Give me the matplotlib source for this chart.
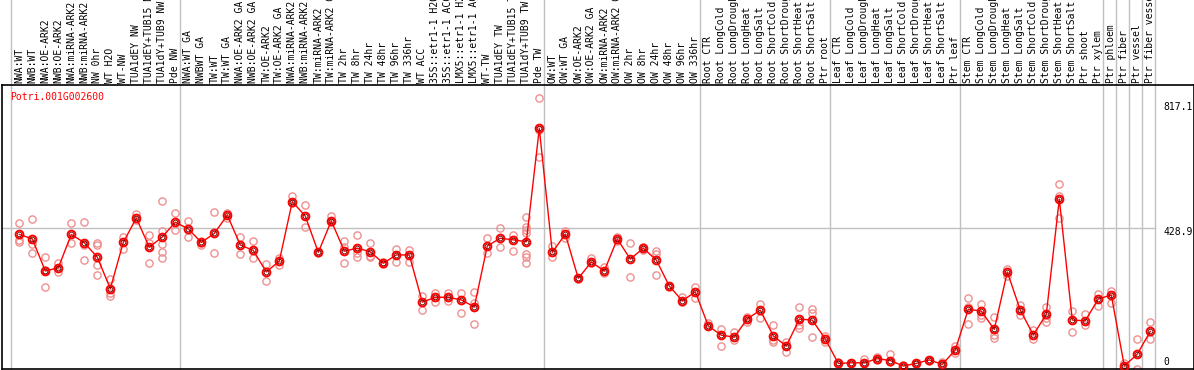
import matplotlib
matplotlib.use("Agg")
import matplotlib.pyplot as plt
import matplotlib.transforms as mtransforms

gene_name = "Potri.001G002600"

categories = [
    "NWA:WT", "NWB:WT", "NWA:OE-ARK2", "NWB:OE-ARK2", "NWA:miRNA-ARK2", "NWB:miRNA-ARK2",
    "NW 0hr", "WT H2O", "WT-NW", "TUA1dEY NW", "TUA1dEY+TUB15 NW", "TUA1dY+TUB9 NW", "Pde NW",
    "NWA:WT GA", "NWBWT GA", "TW:WT", "TW:WT GA", "NWA:OE-ARK2 GA", "NWB:OE-ARK2 GA",
    "TW:OE-ARK2", "TW:OE-ARK2 GA", "NWA:miRNA-ARK2 GA", "NWB:miRNA-ARK2 GA", "TW:miRNA-ARK2",
    "TW:miRNA-ARK2 GA", "TW 2hr", "TW 8hr", "TW 24hr", "TW 48hr", "TW 96hr", "TW 336hr",
    "WT ACC", "35S::etr1-1 H2O", "35S::etr1-1 ACC", "LMX5::etr1-1 H2O", "LMX5::etr1-1 ACC",
    "WT-TW", "TUA1dEY TW", "TUA1dEY+TUB15 TW", "TUA1dY+TUB9 TW", "Pde TW",
    "OW:WT", "OW:WT GA", "OW:OE-ARK2", "OW:OE-ARK2 GA", "OW:miRNA-ARK2", "OW:miRNA-ARK2 GA",
    "OW 2hr", "OW 8hr", "OW 24hr", "OW 48hr", "OW 96hr", "OW 336hr",
    "Root CTR", "Root LongCold", "Root LongDrought", "Root LongHeat", "Root LongSalt",
    "Root ShortCold", "Root ShortDrought", "Root ShortHeat", "Root ShortSalt", "Ptr root",
    "Leaf CTR", "Leaf LongCold", "Leaf LongDrought", "Leaf LongHeat", "Leaf LongSalt",
    "Leaf ShortCold", "Leaf ShortDrought", "Leaf ShortHeat", "Leaf ShortSalt", "Ptr leaf",
    "Stem CTR", "Stem LongCold", "Stem LongDrought", "Stem LongHeat", "Stem LongSalt",
    "Stem ShortCold", "Stem ShortDrought", "Stem ShortHeat", "Stem ShortSalt",
    "Ptr shoot", "Ptr xylem", "Ptr phloem", "Ptr fiber", "Ptr vessel", "Ptr fiber vessel",
]

mean_values = [
    410, 396, 296, 306, 410, 384, 339, 241, 385, 461, 370, 402, 448,
    427, 385, 413, 470, 377, 360, 293, 327, 512, 467, 354, 452, 358, 367, 356, 320, 346, 346,
    199, 214, 214, 206, 184, 374, 398, 393, 387, 740,
    354, 411, 273, 324, 296, 396, 333, 367, 330, 249, 203, 231,
    125, 96, 90, 147, 174, 94, 62, 146, 143, 84,
    8, 10, 10, 23, 17, 0, 8, 19, 5, 50,
    177, 171, 114, 293, 174, 97, 161, 520, 143, 141,
    209, 221, 0, 37, 108,
]

replicate_values = [
    [444, 393, 387], [458, 379, 351], [339, 299, 245], [320, 294], [444, 382],
    [448, 377, 330], [384, 377, 315, 283], [270, 226, 219], [403, 363], [474, 455],
    [408, 384, 320], [514, 422, 380, 356, 335], [476, 424],
    [452, 401], [382, 377], [481, 351], [476, 460], [403, 349], [389, 335],
    [318, 264], [335, 315], [530, 507], [501, 432], [356, 351], [467, 450],
    [389, 372, 320], [408, 351, 339], [382, 344, 341], [325, 318], [363, 325], [361, 325],
    [218, 174], [228, 198], [228, 204], [226, 164], [229, 195, 130],
    [398, 353], [429, 370], [408, 357], [463, 434, 424, 413, 349, 341, 322], [834, 736, 650],
    [374, 339], [422, 398], [273, 270], [335, 320], [307, 289], [403, 390],
    [382, 278], [372, 361], [358, 349, 282], [249, 246], [214, 200], [245, 211],
    [133, 125], [114, 63], [107, 81], [154, 138], [192, 148], [128, 81, 74],
    [76, 45], [183, 128, 117], [177, 166, 91], [94, 74],
    [11, 6], [10, 8], [21, 8], [29, 20], [37, 12], [0, 2], [8, 6], [19, 16], [13, 2],
    [62, 39], [211, 185, 130], [192, 159, 148], [154, 97, 86], [302, 281], [190, 159],
    [112, 83], [185, 148, 138], [566, 530, 460], [171, 107], [162, 128],
    [223, 187], [234, 195], [10, 0], [83, -10], [136, 83],
]

separator_after = [0, 13, 41, 53, 63, 73, 84, 85, 86, 87, 88]
grid_value = 428.9
right_labels = ["817.1", "428.9", "0"]
right_label_values = [817.1, 428.9, 0]

W, H = 1194, 370
fig = plt.figure(figsize=(W / 100, H / 100), dpi=100)
left_px, right_px, bot_px, top_px = 1.5, 1193.5, 369.0, 85.0
ax = fig.add_axes([left_px / W, (H - bot_px) / H, (right_px - left_px) / W, (bot_px - top_px) / H])

# pixel mapping: x_px = 6.3 + 13*i ; value = (366 - y_px)/0.321
ax.set_xlim((left_px - 6.3) / 13, (right_px - 6.3) / 13)
ax.set_ylim((366 - bot_px) / 0.321, (366 - top_px) / 0.321)
ax.set_xticks([])
ax.set_yticks([])
for s in ax.spines.values():
    s.set_color("black")
    s.set_linewidth(1.2)

xs = list(range(1, len(categories) + 1))
blend = mtransforms.blended_transform_factory(ax.transData, fig.transFigure)

# separators spanning full height
for k in separator_after:
    ax.plot([k + 0.38, k + 0.38], [0, 1], color="#c0c0c0", lw=1.0, transform=blend,
            clip_on=False, zorder=1)
# horizontal grid line
ax.plot([ax.get_xlim()[0], separator_after[-1] + 0.38], [grid_value, grid_value],
        color="#c0c0c0", lw=1.0, zorder=1)

# replicates
for x, reps in zip(xs, replicate_values):
    ax.plot([x] * len(reps), reps, linestyle="none", marker="o", markersize=5.2,
            markerfacecolor="none", markeredgecolor="#ee9090", markeredgewidth=1.0, zorder=2)

# mean line and markers
ax.plot(xs, mean_values, color="#ff0000", lw=1.0, zorder=3)
ax.plot(xs, mean_values, linestyle="none", marker="o", markersize=5.6,
        markerfacecolor="none", markeredgecolor="#ff0000", markeredgewidth=1.4, zorder=4)
ax.plot(xs, mean_values, linestyle="none", marker="o", markersize=3.4,
        markerfacecolor="none", markeredgecolor="#600000", markeredgewidth=0.6, zorder=5)

# category labels
for x, lab in zip(xs, categories):
    ax.text(x, (H - 83) / H, lab, rotation=90, ha="center", va="bottom",
            family="DejaVu Sans Mono", fontsize=7, color="black", transform=blend, clip_on=False)

# gene name
ax.text(10 / W, (H - 97) / H, gene_name, transform=fig.transFigure, ha="left", va="center",
        family="DejaVu Sans Mono", fontsize=7, color="#ff0000")

# right-hand value labels
label_offsets = [3, 4, -4]
for lab, v, off in zip(right_labels, right_label_values, label_offsets):
    y_px = 366 - v * 0.321 + off
    ax.text(1163 / W, (H - y_px) / H, lab, transform=fig.transFigure, ha="left", va="center",
            family="DejaVu Sans Mono", fontsize=7, color="black")

fig.savefig("out.png", dpi=100)
